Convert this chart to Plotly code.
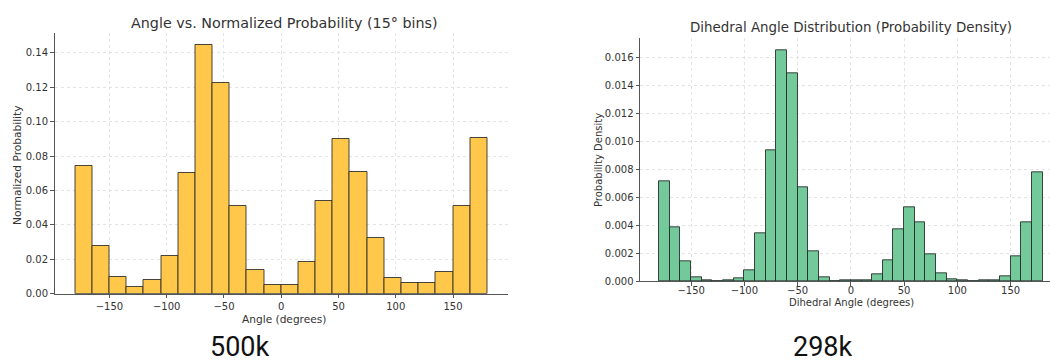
import plotly.graph_objects as go

# ---- data ----
left_bin_edges_start = [-180, -165, -150, -135, -120, -105, -90, -75, -60, -45, -30, -15,
                        0, 15, 30, 45, 60, 75, 90, 105, 120, 135, 150, 165]
left_bin_width = 15
left_values = [0.074, 0.0275, 0.0095, 0.0037, 0.0077, 0.0218, 0.070, 0.1444, 0.1228, 0.051,
               0.0138, 0.0050, 0.0050, 0.0183, 0.054, 0.0897, 0.071, 0.0325, 0.0090, 0.0062,
               0.0063, 0.0124, 0.0512, 0.0908]

right_bin_edges_start = [-180, -170, -160, -150, -140, -130, -120, -110, -100, -90, -80, -70,
                         -60, -50, -40, -30, -20, -10, 0, 10, 20, 30, 40, 50, 60, 70, 80, 90,
                         100, 110, 120, 130, 140, 150, 160, 170]
right_bin_width = 10
right_values = [0.00715, 0.00385, 0.00142, 0.00027, 0.00008, 0.00001, 0.00004, 0.0002, 0.0008,
                0.00345, 0.0094, 0.01658, 0.01487, 0.00675, 0.0021, 0.0003, 0.00001, 0.00002,
                0.00003, 0.00005, 0.00048, 0.0015, 0.00368, 0.0053, 0.00422, 0.00195, 0.00058,
                0.00012, 0.00005, 0.00001, 0.00003, 0.00007, 0.00035, 0.00175, 0.00418, 0.0078]

left_title = "Angle vs. Normalized Probability (15° bins)"
right_title = "Dihedral Angle Distribution (Probability Density)"
left_xlabel = "Angle (degrees)"
left_ylabel = "Normalized Probability"
right_xlabel = "Dihedral Angle (degrees)"
right_ylabel = "Probability Density"
captions = ["500k", "298k"]

W, H = 1050, 364

fig = go.Figure()
fig.add_trace(go.Bar(
    x=[s + left_bin_width / 2 for s in left_bin_edges_start], y=left_values,
    width=left_bin_width,
    marker=dict(color="#FFC84A", line=dict(color="rgba(40,40,40,0.85)", width=1)),
    xaxis="x", yaxis="y", showlegend=False, hoverinfo="x+y"))
fig.add_trace(go.Bar(
    x=[s + right_bin_width / 2 for s in right_bin_edges_start], y=right_values,
    width=right_bin_width,
    marker=dict(color="#74C99A", line=dict(color="rgba(30,40,35,0.85)", width=1)),
    xaxis="x2", yaxis="y2", showlegend=False, hoverinfo="x+y"))

font_main = "DejaVu Sans"
axis_common = dict(
    showline=True, linecolor="#555", linewidth=1,
    ticks="outside", ticklen=3.5, tickcolor="#555",
    showgrid=True, gridcolor="#e4e4e4", griddash="dot", gridwidth=1,
    zeroline=False, automargin=False,
    tickfont=dict(family=font_main, size=10, color="#333"),
)


def px_x(p):
    return p / W


def px_y(p):
    return 1 - p / H


fig.update_layout(
    template="none",
    width=W, height=H,
    margin=dict(l=0, r=0, t=0, b=0, pad=0),
    paper_bgcolor="white", plot_bgcolor="white",
    bargap=0,
    xaxis=dict(domain=[px_x(54.5), px_x(508)], range=[-198, 198], dtick=50, tick0=0,
               anchor="y", **axis_common),
    yaxis=dict(domain=[px_y(293.7), px_y(33)], range=[0, 0.1516], dtick=0.02, tickformat=".2f",
               anchor="x", **axis_common),
    xaxis2=dict(domain=[px_x(640), 1.0], range=[-198, 187], dtick=50, tick0=0,
                anchor="y2", ticklabelstandoff=-4, **axis_common),
    yaxis2=dict(domain=[px_y(281), px_y(38.3)], range=[0, 0.01741], dtick=0.002, tickformat=".3f",
                anchor="x2", **axis_common),
)


def txt(text, x, y, size, family=font_main, color="#333", angle=0):
    return dict(text=text, x=x / W, y=px_y(y), xref="paper", yref="paper",
                showarrow=False, xanchor="center", yanchor="middle", textangle=angle,
                borderpad=0, font=dict(family=family, size=size, color=color))


cap_font = "Liberation Sans Narrow, Roboto, Liberation Sans"
annotations = [
    txt(left_title, 284.5, 22.5, 14.3),
    txt(right_title, 851, 28, 13.4),
    txt(left_xlabel, 284, 319, 10.6),
    txt(left_ylabel, 17, 166, 10.6, angle=-90),
    txt(right_xlabel, 851, 302, 10),
    txt(right_ylabel, 598, 160, 10, angle=-90),
    txt(captions[0], 240, 347, 27, family=cap_font, color="#111"),
    txt(captions[1], 823, 347, 27, family=cap_font, color="#111"),
]
fig.update_layout(annotations=annotations)

fig.write_html(
    "out.html",
    config={"displayModeBar": False},
    post_script="document.body.style.margin='0';document.body.style.overflow='hidden';",
)
